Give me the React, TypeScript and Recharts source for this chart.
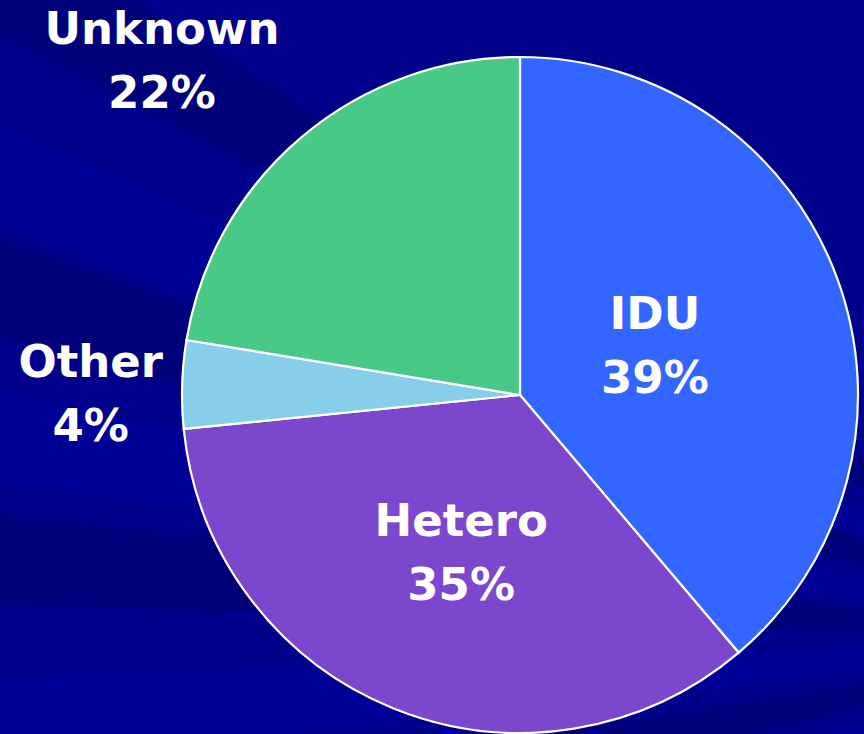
import { Cell, Pie, PieChart } from "recharts";

// transmission categories, read off the slide (slice sizes measured from the
// wedge angles; labels show the rounded share)
const categories = ["IDU", "Hetero", "Other", "Unknown"];
const shares = [38.8, 34.6, 4.2, 22.4];
const sliceColors = ["#3366FF", "#7B47CC", "#87CEEB", "#48C987"];

// label placement: radius as a fraction of the pie, plus a small angle nudge
const labelRadius = [0.428, 0.49, 1.27, 1.455];
const labelNudge = [1, 1.15, 1.2, 6.4];

const W = 864;
const H = 734;
const RAD = Math.PI / 180;

const data = categories.map((name, i) => ({ name, value: shares[i] }));
const total = shares.reduce((s, v) => s + v, 0);

// faint rays in the slide background (decoration only)
const rayAngles = [150, 158, 163, 170, 176, 184, 191, 198, 206, 214];
function Backdrop() {
  const fx = 1150;
  const fy = 640;
  return (
    <svg width={W} height={H} style={{ position: "absolute", left: 0, top: 0 }}>
      <rect width={W} height={H} fill="#00008A" />
      {rayAngles.map((a, i) => {
        const w = 2.2;
        const p1 = [fx + 1600 * Math.cos((a - w) * RAD), fy - 1600 * Math.sin((a - w) * RAD)];
        const p2 = [fx + 1600 * Math.cos((a + w) * RAD), fy - 1600 * Math.sin((a + w) * RAD)];
        return (
          <polygon
            key={a}
            points={`${fx},${fy} ${p1[0]},${p1[1]} ${p2[0]},${p2[1]}`}
            fill={i % 2 ? "#0000A0" : "#000070"}
            opacity={0.55}
          />
        );
      })}
    </svg>
  );
}

function renderLabel(props: any) {
  const { cx, cy, midAngle, outerRadius, index } = props;
  const r = outerRadius * labelRadius[index];
  const a = (midAngle + labelNudge[index]) * RAD;
  const x = cx + r * Math.cos(a);
  const y = cy - r * Math.sin(a);
  const pct = Math.round((shares[index] / total) * 100);
  return (
    <text
      x={x}
      y={y}
      fill="#FFFFFF"
      textAnchor="middle"
      fontFamily="DejaVu Sans, sans-serif"
      fontWeight="bold"
      fontSize={45}
    >
      <tspan x={x} y={y - 14}>
        {categories[index]}
      </tspan>
      <tspan x={x} y={y + 50}>
        {`${pct}%`}
      </tspan>
    </text>
  );
}

export default function App() {
  return (
    <div style={{ position: "fixed", left: 0, top: 0, width: W, height: H, overflow: "hidden" }}>
      <Backdrop />
      <div style={{ position: "absolute", left: 0, top: 0 }}>
        <PieChart width={W} height={H} margin={{ top: 0, right: 0, bottom: 0, left: 0 }}>
          <Pie
            data={data}
            dataKey="value"
            nameKey="name"
            cx={520}
            cy={395}
            outerRadius={338}
            startAngle={90}
            endAngle={-270}
            stroke="#FFFFFF"
            strokeWidth={2.2}
            label={renderLabel}
            labelLine={false}
            isAnimationActive={false}
          >
            {data.map((d, i) => (
              <Cell key={d.name} fill={sliceColors[i]} />
            ))}
          </Pie>
        </PieChart>
      </div>
    </div>
  );
}
